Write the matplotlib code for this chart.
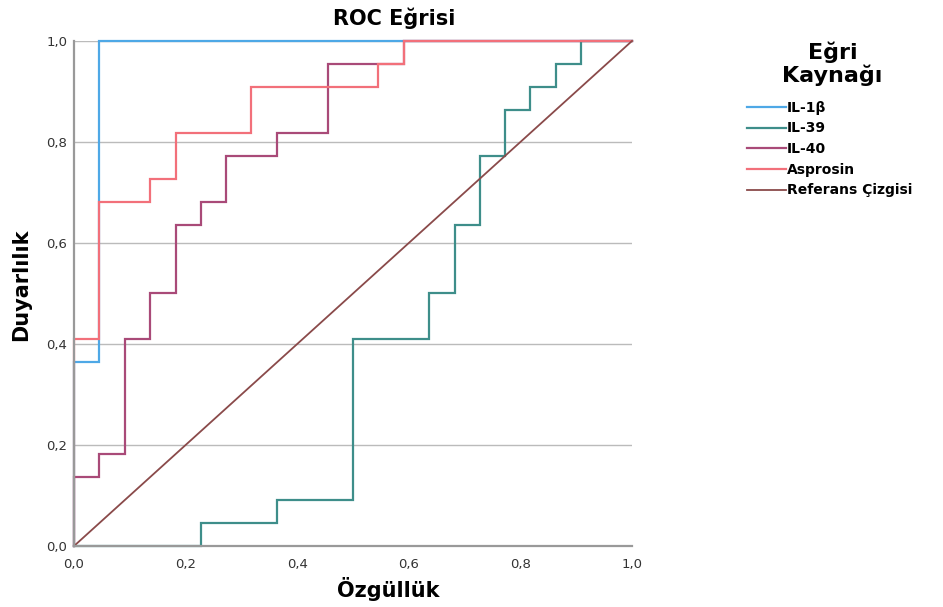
import matplotlib
matplotlib.use("Agg")
import matplotlib.pyplot as plt
from matplotlib.ticker import FuncFormatter

plt.rcParams['font.family'] = ['DejaVu Sans']

# Data: ROC step curves (1 - specificity, sensitivity)
il1b_x = [0.0, 0.0, 0.0455, 0.0455, 1.0]
il1b_y = [0.0, 0.364, 0.364, 1.0, 1.0]

il39_x = [0.0, 0.227, 0.227, 0.364, 0.364, 0.5, 0.5, 0.636, 0.636, 0.682, 0.682,
          0.727, 0.727, 0.773, 0.773, 0.818, 0.818, 0.864, 0.864, 0.909, 0.909, 1.0]
il39_y = [0.0, 0.0, 0.045, 0.045, 0.091, 0.091, 0.409, 0.409, 0.5, 0.5, 0.636,
          0.636, 0.773, 0.773, 0.864, 0.864, 0.909, 0.909, 0.955, 0.955, 1.0, 1.0]

il40_x = [0.0, 0.0, 0.0455, 0.0455, 0.091, 0.091, 0.136, 0.136, 0.182, 0.182, 0.227,
          0.227, 0.273, 0.273, 0.364, 0.364, 0.455, 0.455, 0.591, 0.591, 1.0]
il40_y = [0.0, 0.136, 0.136, 0.182, 0.182, 0.409, 0.409, 0.5, 0.5, 0.636, 0.636,
          0.682, 0.682, 0.773, 0.773, 0.818, 0.818, 0.955, 0.955, 1.0, 1.0]

asp_x = [0.0, 0.0, 0.0455, 0.0455, 0.136, 0.136, 0.182, 0.182, 0.318, 0.318,
         0.545, 0.545, 0.591, 0.591, 1.0]
asp_y = [0.0, 0.409, 0.409, 0.682, 0.682, 0.727, 0.727, 0.818, 0.818, 0.909,
         0.909, 0.955, 0.955, 1.0, 1.0]

ref_x = [0.0, 1.0]
ref_y = [0.0, 1.0]

labels = ['IL-1β', 'IL-39', 'IL-40', 'Asprosin', 'Referans Çizgisi']
colors = ['#4EA8E6', '#3E8E8A', '#A94A78', '#F2707A', '#8A4A4A']

fig = plt.figure(figsize=(9.43, 6.07), dpi=100)
ax = fig.add_axes([0.0785, 0.1005, 0.5917, 0.832])

series = [(il1b_x, il1b_y), (il39_x, il39_y), (il40_x, il40_y), (asp_x, asp_y), (ref_x, ref_y)]
handles = []
for (xs, ys), lab, col in zip(series, labels, colors):
    h, = ax.plot(xs, ys, color=col, lw=1.6 if lab != 'Referans Çizgisi' else 1.3,
                 label=lab, solid_joinstyle='miter', clip_on=False)
    handles.append(h)

ax.set_xlim(0, 1)
ax.set_ylim(0, 1)
ticks = [0.0, 0.2, 0.4, 0.6, 0.8, 1.0]
ax.set_xticks(ticks)
ax.set_yticks(ticks)
fmt = FuncFormatter(lambda v, p: f"{v:.1f}".replace('.', ','))
ax.xaxis.set_major_formatter(fmt)
ax.yaxis.set_major_formatter(fmt)
ax.tick_params(length=0, labelsize=9.5, colors='#333333')
ax.tick_params(axis='x', pad=9)
ax.tick_params(axis='y', pad=5)
ax.yaxis.grid(True, color='#BBBBBB', lw=1.0)
ax.set_axisbelow(True)
for s in ['top', 'right']:
    ax.spines[s].set_visible(False)
for s in ['left', 'bottom']:
    ax.spines[s].set_color('#999999')
    ax.spines[s].set_linewidth(1.6)

fig.text(0.418, 0.970, 'ROC Eğrisi', fontsize=15, fontweight='bold',
         ha='center', va='center')
fig.text(0.4115, 0.030, 'Özgüllük', fontsize=15, fontweight='bold',
         ha='center', va='center')
fig.text(0.0225, 0.5305, 'Duyarlılık', fontsize=15, fontweight='bold',
         ha='center', va='center', rotation=90)

fig.text(0.883, 0.895, 'Eğri\nKaynağı', fontsize=16, fontweight='bold',
         ha='center', va='center', multialignment='center', linespacing=1.1)

leg = fig.legend(handles=handles, labels=labels, loc='upper left',
                 bbox_to_anchor=(0.792, 0.834), frameon=False,
                 prop={'weight': 'bold', 'size': 10},
                 handlelength=2.8, handletextpad=0.1, labelspacing=0.48,
                 borderaxespad=0, borderpad=0)

fig.savefig('out.png', dpi=100)
